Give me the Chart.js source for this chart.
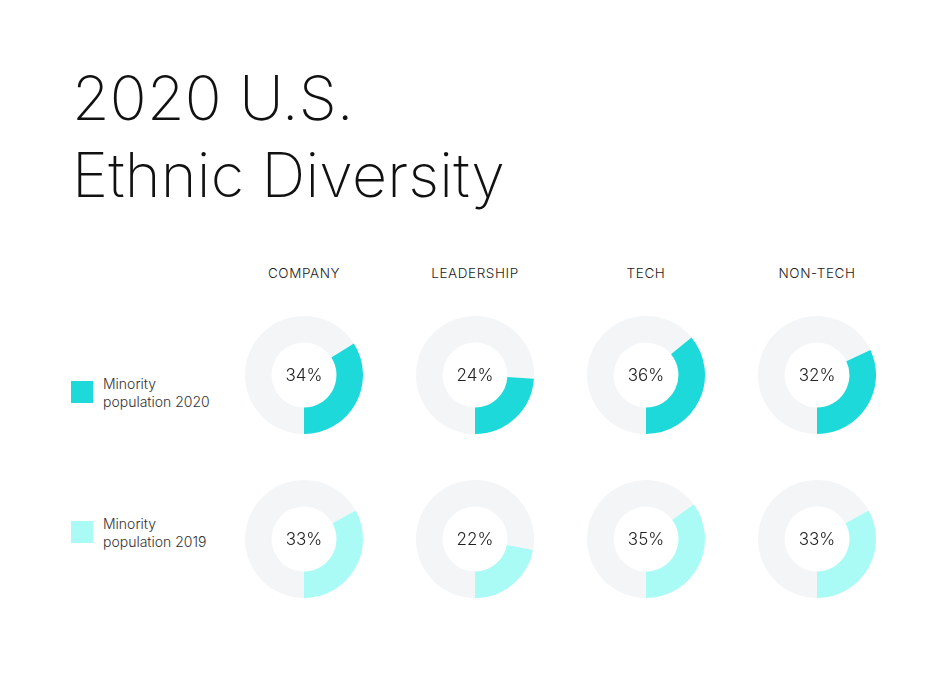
<!DOCTYPE html>
<html lang="en">
<head>
  <meta charset="UTF-8">
  <title>2020 U.S. Ethnic Diversity</title>
  <script src="https://cdn.jsdelivr.net/npm/chart.js"></script>
  <style>
    body { margin: 0; background: #fff; font-family: 'Inter', sans-serif; color: #111; }
    #page { position: relative; width: 949px; height: 675px; overflow: hidden; }
    h1 { position: absolute; left: 72px; top: 60px; margin: 0; font-weight: 250; font-size: 61px; line-height: 77px; letter-spacing: 0.2px; }
    .head { position: absolute; top: 265px; width: 170px; text-align: center; font-size: 13.5px; font-weight: 350; letter-spacing: 0.6px; color: #222; }
    .legend { position: absolute; left: 71px; font-size: 14px; font-weight: 350; line-height: 18px; color: #333; }
    .legend span.box { position: absolute; left: 0; top: 6px; width: 22px; height: 22px; }
    .legend div { margin-left: 32px; }
    .donut { position: absolute; width: 120px; height: 120px; }
  </style>
</head>
<body>
<div id="page">
  <h1>2020 U.S.<br>Ethnic Diversity</h1>
</div>
<script>
  const groups = ['COMPANY', 'LEADERSHIP', 'TECH', 'NON-TECH'];
  const minority2020 = [34, 24, 36, 32];
  const minority2019 = [33, 22, 35, 33];
  const rowYears = ['2020', '2019'];
  const rowColors = ['#1dd9d9', '#aafbf6'];
  const restColor = '#f3f5f7';

  const page = document.getElementById('page');
  const colX = [304, 475, 646, 817];
  const rowY = [375, 539];
  const legendTop = [375, 515];

  // headers
  groups.forEach((g, i) => {
    const d = document.createElement('div');
    d.className = 'head';
    d.style.left = (colX[i] - 85) + 'px';
    d.textContent = g;
    page.appendChild(d);
  });

  // legend
  rowYears.forEach((y, r) => {
    const l = document.createElement('div');
    l.className = 'legend';
    l.style.top = legendTop[r] + 'px';
    l.innerHTML = '<span class="box" style="background:' + rowColors[r] + '"></span><div>Minority<br>population ' + y + '</div>';
    page.appendChild(l);
  });

  const centerText = {
    id: 'centerText',
    afterDraw(chart) {
      const ctx = chart.ctx;
      const a = chart.getDatasetMeta(0).data[0];
      ctx.save();
      ctx.font = '300 17px Inter';
      ctx.fillStyle = '#222';
      ctx.textAlign = 'center';
      ctx.textBaseline = 'middle';
      ctx.fillText(chart.data.datasets[0].data[1] + '%', a.x, a.y + 1);
      ctx.restore();
    }
  };

  [minority2020, minority2019].forEach((series, r) => {
    series.forEach((v, i) => {
      const c = document.createElement('canvas');
      c.className = 'donut';
      c.style.left = (colX[i] - 60) + 'px';
      c.style.top = (rowY[r] - 60) + 'px';
      c.width = 120; c.height = 120;
      page.appendChild(c);
      new Chart(c, {
        type: 'doughnut',
        data: {
          labels: ['Other', groups[i]],
          datasets: [{
            data: [100 - v, v],
            backgroundColor: [restColor, rowColors[r]],
            borderWidth: 0
          }]
        },
        options: {
          responsive: false,
          animation: false,
          rotation: 180,
          cutout: '55%',
          layout: { padding: 1 },
          plugins: { legend: { display: false }, tooltip: { enabled: false } }
        },
        plugins: [centerText]
      });
    });
  });
</script>
</body>
</html>
